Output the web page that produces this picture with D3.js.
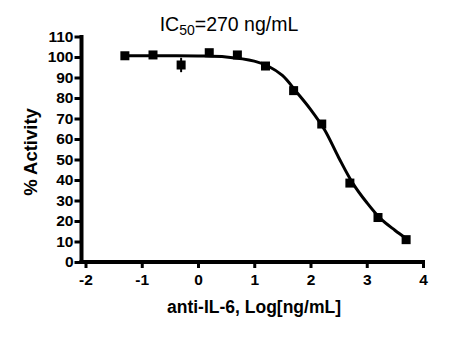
<!DOCTYPE html>
<html>
<head>
<meta charset="utf-8">
<script src="https://cdn.jsdelivr.net/npm/d3@7"></script>
<style>
  body { margin: 0; background: #fff; }
  svg { font-family: "Liberation Sans", Arial, sans-serif; }
</style>
</head>
<body>
<div id="chart"></div>
<script>
// measured points (log dose, % activity, error)
var logDose = [-1.3, -0.8, -0.3, 0.2, 0.7, 1.2, 1.7, 2.2, 2.7, 3.2, 3.7];
var activity = [100.6, 101, 96.1, 102.1, 101, 95.6, 83.6, 67.3, 38.5, 21.7, 10.9];
var errs = [0.5, 1.5, 3.5, 1, 0.5, 0.5, 0.5, 0.5, 0.5, 0.5, 0.5];

// fitted curve
var curveX = [-1.3, -0.5, 0, 0.5, 1.0, 1.25, 1.5, 1.75, 2.0, 2.25, 2.5, 2.75, 3.0, 3.25, 3.5, 3.7];
var curveY = [100.6, 100.6, 100.5, 100, 98, 95.5, 91, 83, 74.5, 64.5, 51, 38.5, 29, 21, 15.5, 11.5];

var xTicks = [-2, -1, 0, 1, 2, 3, 4];
var yTicks = [0, 10, 20, 30, 40, 50, 60, 70, 80, 90, 100, 110];

var W = 460, H = 347;
var margin = {top: 36.5, right: 37, bottom: 85, left: 85.5};
var yAxisX = 81.5;

var svg = d3.select('#chart').append('svg')
    .attr('width', W)
    .attr('height', H);

var x = d3.scaleLinear().domain([-2, 4]).range([margin.left, W - margin.right]);
var y = d3.scaleLinear().domain([0, 110]).range([H - margin.bottom, margin.top]);

// axes
var xAxis = svg.append('g')
    .attr('transform', 'translate(0,' + (H - margin.bottom) + ')')
    .call(d3.axisBottom(x).tickValues(xTicks).tickSize(6).tickPadding(6).tickFormat(function(d) { return String(d); }));
var yAxis = svg.append('g')
    .attr('transform', 'translate(' + yAxisX + ',0)')
    .call(d3.axisLeft(y).tickValues(yTicks).tickSize(7).tickPadding(1));

[xAxis, yAxis].forEach(function(a) {
  a.select('.domain').remove();
  a.selectAll('.tick line').attr('stroke', '#000').attr('stroke-width', 3);
  a.selectAll('.tick text')
    .attr('fill', '#000')
    .style('font-size', '15.5px')
    .style('font-weight', 'bold')
    .style('font-family', '"Liberation Sans", Arial, sans-serif');
});

// axis lines, drawn so they meet in the corner
svg.append('line')
    .attr('x1', yAxisX - 2).attr('x2', x(4) + 2)
    .attr('y1', y(0)).attr('y2', y(0))
    .attr('stroke', '#000').attr('stroke-width', 4);
svg.append('line')
    .attr('x1', yAxisX).attr('x2', yAxisX)
    .attr('y1', y(0) + 2).attr('y2', y(110) - 1.5)
    .attr('stroke', '#000').attr('stroke-width', 4);

// fitted curve
var line = d3.line()
    .x(function(d) { return x(d[0]); })
    .y(function(d) { return y(d[1]); })
    .curve(d3.curveCatmullRom);
svg.append('path')
    .datum(d3.zip(curveX, curveY))
    .attr('d', line)
    .attr('fill', 'none')
    .attr('stroke', '#000')
    .attr('stroke-width', 3);

var pts = logDose.map(function(d, i) { return {x: d, y: activity[i], e: errs[i]}; });

// error bars
svg.selectAll('.err')
    .data(pts)
    .enter()
    .append('line')
    .attr('class', 'err')
    .attr('x1', function(d) { return x(d.x); })
    .attr('x2', function(d) { return x(d.x); })
    .attr('y1', function(d) { return y(d.y - d.e); })
    .attr('y2', function(d) { return y(d.y + d.e); })
    .attr('stroke', '#000')
    .attr('stroke-width', 2);

// markers
var s = 9;
svg.selectAll('.pt')
    .data(pts)
    .enter()
    .append('rect')
    .attr('class', 'pt')
    .attr('x', function(d) { return x(d.x) - s / 2; })
    .attr('y', function(d) { return y(d.y) - s / 2; })
    .attr('width', s)
    .attr('height', s)
    .attr('fill', '#000');

// title
var title = svg.append('text')
    .attr('x', 229)
    .attr('y', 31)
    .attr('text-anchor', 'middle')
    .style('font-size', '19.5px')
    .attr('fill', '#000');
title.append('tspan').text('IC');
title.append('tspan').attr('dy', 4).style('font-size', '14px').text('50');
title.append('tspan').attr('dy', -4).text('=270 ng/mL');

// axis titles
svg.append('text')
    .attr('x', 254)
    .attr('y', 313)
    .attr('text-anchor', 'middle')
    .style('font-size', '17.5px')
    .style('font-weight', 'bold')
    .text('anti-IL-6, Log[ng/mL]');

svg.append('text')
    .attr('transform', 'translate(37,152) rotate(-90)')
    .attr('text-anchor', 'middle')
    .style('font-size', '18.5px')
    .style('font-weight', 'bold')
    .text('% Activity');
</script>
</body>
</html>
